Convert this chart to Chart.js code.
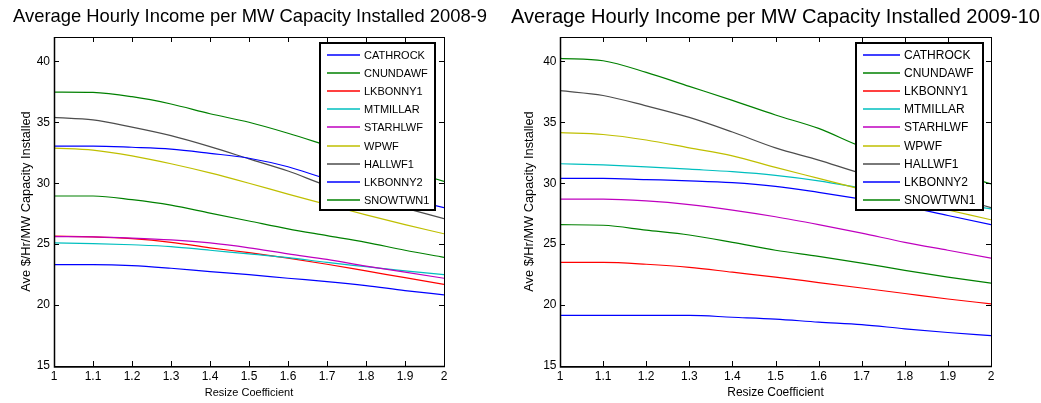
<!DOCTYPE html>
<html>
<head>
<meta charset="utf-8">
<script src="https://cdn.jsdelivr.net/npm/chart.js@4.4.1/dist/chart.umd.min.js"></script>
<style>
  body { margin: 0; background: #fff; }
  canvas { position: absolute; top: 0; }
</style>
</head>
<body>
<canvas id="chart0809" width="500" height="403" style="left:0px"></canvas>
<canvas id="chart0910" width="531" height="403" style="left:510px"></canvas>
<script>
// x values (resize coefficient)
const resizeCoef = [1, 1.1, 1.2, 1.3, 1.4, 1.5, 1.6, 1.7, 1.8, 1.9, 2];

const seriesNames = ['CATHROCK', 'CNUNDAWF', 'LKBONNY1', 'MTMILLAR', 'STARHLWF', 'WPWF', 'HALLWF1', 'LKBONNY2', 'SNOWTWN1'];
const seriesColors = ['#0000ff', '#008000', '#ff0000', '#00bfbf', '#bf00bf', '#bfbf00', '#4d4d4d', '#0000ff', '#008000'];

// 2008-9 (ave $/hr per MW)
const cathrock0809 = [23.32, 23.32, 23.24, 23.02, 22.75, 22.5, 22.2, 21.93, 21.6, 21.19, 20.84];
const cnundawf0809 = [28.95, 28.95, 28.65, 28.2, 27.55, 26.9, 26.25, 25.7, 25.15, 24.5, 23.92];
const lkbonny10809 = [25.65, 25.6, 25.45, 25.15, 24.7, 24.3, 23.85, 23.35, 22.8, 22.25, 21.7];
const mtmillar0809 = [25.1, 25.05, 24.95, 24.8, 24.5, 24.2, 23.9, 23.5, 23.15, 22.8, 22.5];
const starhlwf0809 = [25.62, 25.6, 25.5, 25.35, 25.1, 24.7, 24.2, 23.75, 23.2, 22.7, 22.2];
const wpwf0809     = [32.88, 32.72, 32.25, 31.6, 30.85, 30.0, 29.1, 28.25, 27.4, 26.6, 25.85];
const hallwf10809  = [35.4, 35.2, 34.6, 33.9, 33.0, 32.0, 31.0, 29.8, 28.85, 27.95, 27.1];
const lkbonny20809 = [33.05, 33.05, 32.95, 32.8, 32.45, 32.05, 31.35, 30.35, 29.5, 28.75, 28.0];
const snowtwn10809 = [37.48, 37.45, 37.1, 36.5, 35.7, 35.0, 34.1, 33.1, 32.1, 31.1, 30.15];

// 2009-10
const cathrock0910 = [19.15, 19.15, 19.15, 19.15, 19.0, 18.85, 18.6, 18.4, 18.05, 17.75, 17.5];
const cnundawf0910 = [26.6, 26.55, 26.15, 25.75, 25.15, 24.5, 24.0, 23.45, 22.85, 22.3, 21.8];
const lkbonny10910 = [23.5, 23.5, 23.35, 23.1, 22.7, 22.3, 21.85, 21.4, 20.95, 20.5, 20.1];
const mtmillar0910 = [31.6, 31.5, 31.35, 31.15, 30.95, 30.65, 30.2, 29.6, 29.0, 28.45, 27.9];
const starhlwf0910 = [28.7, 28.7, 28.55, 28.25, 27.8, 27.25, 26.6, 25.9, 25.15, 24.5, 23.85];
const wpwf0910     = [34.15, 34.0, 33.55, 32.9, 32.25, 31.3, 30.4, 29.5, 28.6, 27.8, 27.0];
const hallwf10910  = [37.6, 37.2, 36.35, 35.4, 34.2, 32.9, 31.9, 30.8, 29.95, 29.0, 28.0];
const lkbonny20910 = [30.4, 30.4, 30.3, 30.2, 30.05, 29.75, 29.25, 28.7, 28.1, 27.35, 26.6];
const snowtwn10910 = [40.25, 40.05, 39.1, 37.95, 36.8, 35.6, 34.5, 33.0, 32.0, 31.0, 29.95];

const income0809 = [cathrock0809, cnundawf0809, lkbonny10809, mtmillar0809, starhlwf0809, wpwf0809, hallwf10809, lkbonny20809, snowtwn10809];
const income0910 = [cathrock0910, cnundawf0910, lkbonny10910, mtmillar0910, starhlwf0910, wpwf0910, hallwf10910, lkbonny20910, snowtwn10910];

const FONT = '"Liberation Sans", Arial, Helvetica, sans-serif';

// matlab style box with inward ticks on all four sides
const axesBox = {
    id: 'axesBox',
    afterDatasetsDraw(chart) {
        const { ctx, chartArea: a, scales } = chart;
        const tk = 5;
        const L = Math.round(a.left), R = Math.round(a.right), T = Math.round(a.top), B = Math.round(a.bottom);
        ctx.save();
        ctx.strokeStyle = '#000';
        ctx.lineWidth = 1;
        ctx.beginPath();
        scales.x.ticks.forEach(t => {
            const px = Math.round(scales.x.getPixelForValue(t.value)) + 0.5;
            ctx.moveTo(px, B); ctx.lineTo(px, B - tk);
            ctx.moveTo(px, T); ctx.lineTo(px, T + tk);
        });
        scales.y.ticks.forEach(t => {
            const py = Math.round(scales.y.getPixelForValue(t.value)) + 0.5;
            ctx.moveTo(L, py); ctx.lineTo(L + tk, py);
            ctx.moveTo(R, py); ctx.lineTo(R - tk, py);
        });
        ctx.stroke();
        ctx.strokeRect(L + 0.5, T + 0.5, R - L, B - T);
        ctx.lineWidth = 1.5;
        ctx.beginPath();
        ctx.moveTo(L + 0.5, T); ctx.lineTo(L + 0.5, B + 1);
        ctx.lineTo(R + 1, B + 0.5);
        ctx.stroke();
        ctx.restore();
    }
};

// legend box drawn inside the axes (top right)
const insetLegend = {
    id: 'insetLegend',
    afterDraw(chart, args, opts) {
        const { ctx } = chart;
        const [bx, by, bw, bh] = opts.box;
        ctx.save();
        ctx.fillStyle = '#fff';
        ctx.fillRect(bx, by, bw, bh);
        ctx.strokeStyle = '#000';
        ctx.lineWidth = 2;
        ctx.strokeRect(bx, by, bw, bh);
        ctx.font = opts.fontSize + 'px ' + FONT;
        ctx.textBaseline = 'middle';
        ctx.textAlign = 'left';
        seriesNames.forEach((name, i) => {
            const y = Math.round(opts.rowY + i * opts.rowStep);
            ctx.beginPath();
            ctx.strokeStyle = seriesColors[i];
            ctx.lineWidth = 1.6;
            ctx.moveTo(opts.lineX[0], y);
            ctx.lineTo(opts.lineX[1], y);
            ctx.stroke();
            ctx.fillStyle = '#000';
            ctx.fillText(name, opts.textX, y + 0.5);
        });
        ctx.restore();
    }
};

function makeChart(id, title, values, s) {
    const datasets = values.map((arr, i) => ({
        label: seriesNames[i],
        data: resizeCoef.map((x, j) => ({ x: x, y: arr[j] })),
        borderColor: seriesColors[i],
        backgroundColor: seriesColors[i],
        borderWidth: 1.2,
        pointRadius: 0,
        cubicInterpolationMode: 'monotone',
        order: -i
    }));

    return new Chart(document.getElementById(id).getContext('2d'), {
        type: 'line',
        data: { datasets: datasets },
        plugins: [axesBox, insetLegend],
        options: {
            responsive: false,
            animation: false,
            events: [],
            layout: { padding: 0 },
            plugins: {
                legend: { display: false },
                tooltip: { enabled: false },
                title: {
                    display: true,
                    text: title,
                    color: '#000',
                    font: { family: FONT, size: s.titleSize, weight: 'normal' },
                    padding: { top: s.titleTop, bottom: s.titleBottom }
                },
                insetLegend: s.legend
            },
            scales: {
                x: {
                    type: 'linear',
                    min: 1,
                    max: 2,
                    grid: { display: false, drawTicks: false },
                    border: { display: false },
                    ticks: {
                        stepSize: 0.1,
                        color: '#000',
                        padding: 3,
                        maxRotation: 0,
                        font: { family: FONT, size: 12 },
                        callback: v => String(Number(v.toFixed(1)))
                    },
                    title: {
                        display: true,
                        text: 'Resize Coefficient',
                        color: '#000',
                        font: { family: FONT, size: s.xTitleSize },
                        padding: { top: 0, bottom: s.xTitleBottom }
                    },
                    afterFit: sc => { sc.height = 37; }
                },
                y: {
                    min: 15,
                    max: 42,
                    grid: { display: false, drawTicks: false },
                    border: { display: false },
                    ticks: {
                        stepSize: 5,
                        includeBounds: false,
                        color: '#000',
                        padding: s.yTickPad,
                        font: { family: FONT, size: 12 }
                    },
                    afterBuildTicks: sc => { sc.ticks = sc.ticks.filter(t => t.value % 5 === 0); },
                    title: {
                        display: true,
                        text: 'Ave $/Hr/MW Capacity Installed',
                        color: '#000',
                        font: { family: FONT, size: 12.8 },
                        padding: { top: s.yTitleTop, bottom: 0 }
                    },
                    afterFit: sc => { sc.width = s.yWidth; }
                },
                // empty right-hand axis, only reserves space so the title stays centred over the plot
                ySpace: {
                    position: 'right',
                    display: true,
                    grid: { display: false, drawTicks: false },
                    border: { display: false },
                    ticks: { display: false },
                    afterFit: sc => { sc.width = s.padRight; }
                }
            }
        }
    });
}

makeChart('chart0809', 'Average Hourly Income per MW Capacity Installed 2008-9', income0809, {
    padRight: 56, yWidth: 54, titleSize: 18.4, titleTop: 6, titleBottom: 8.9,
    xTitleSize: 11, xTitleBottom: 3.7, yTitleTop: 19, yTickPad: 4,
    legend: { box: [320, 43, 115, 167], rowY: 55, rowStep: 18.1, lineX: [327, 360], textX: 364, fontSize: 11 }
});

makeChart('chart0910', 'Average Hourly Income per MW Capacity Installed 2009-10', income0910, {
    padRight: 50, yWidth: 50, titleSize: 20.1, titleTop: 5, titleBottom: 7.9,
    xTitleSize: 12, xTitleBottom: 3, yTitleTop: 11.3, yTickPad: 3.5,
    legend: { box: [346, 43, 127, 167], rowY: 55, rowStep: 18.1, lineX: [353, 390], textX: 394, fontSize: 12 }
});
</script>
</body>
</html>
